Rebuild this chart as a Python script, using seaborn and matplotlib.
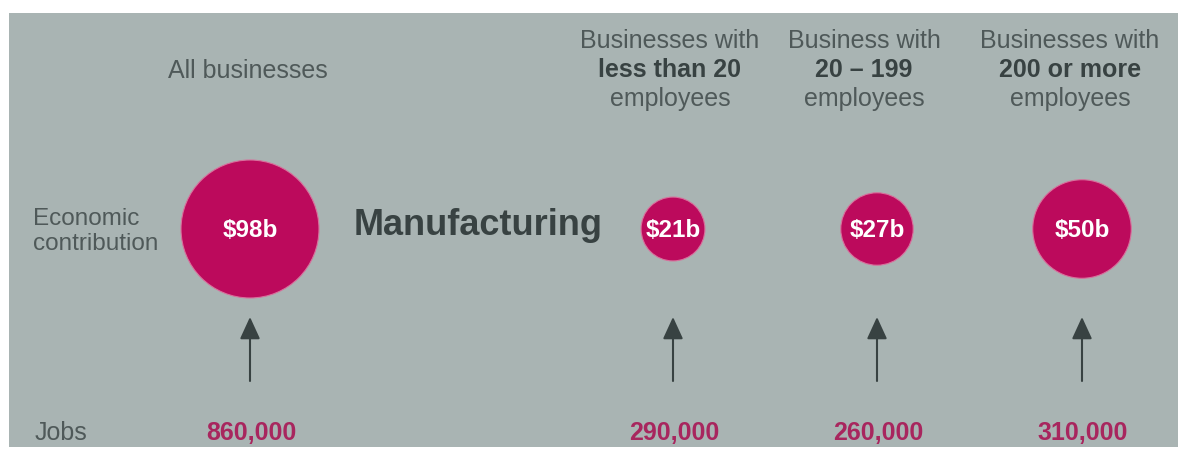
import pandas as pd
import matplotlib.pyplot as plt
import seaborn as sns

groups = ['All businesses', 'Less than 20', '20 - 199', '200 or more']
contribution_b = [98, 21, 27, 50]           # economic contribution, $ billions
jobs = [860000, 290000, 260000, 310000]
sector = 'Manufacturing'

# Header text for each group (one entry per line, True = bold)
headers = [
    [('All businesses', False)],
    [('Businesses with', False), ('less than 20', True), ('employees', False)],
    [('Business with', False), ('20 \u2013 199', True), ('employees', False)],
    [('Businesses with', False), ('200 or more', True), ('employees', False)],
]

# Layout (pixel coordinates of the panel)
col_x = [250, 673, 877, 1082]
header_x = [248, 670, 864, 1070]
circle_y = 230

panel_grey = '#a9b4b3'
magenta = '#bc0a5c'
jobs_col = '#a8265e'
text_grey = '#4f5959'
text_dark = '#384242'

sns.set_theme(style='white')
plt.rcParams['font.family'] = ['Liberation Sans', 'DejaVu Sans']

fig = plt.figure(figsize=(11.78, 4.52), dpi=100)
fig.patch.set_facecolor('white')
# panel sits 9px from the left and 14px from the top
ax = fig.add_axes([9 / 1178, 4 / 452, 1 - 9 / 1178, 434 / 452])
ax.set_facecolor(panel_grey)
ax.set_xlim(9, 1178)
ax.set_ylim(448, 14)
ax.set_xticks([])
ax.set_yticks([])
for sp in ax.spines.values():
    sp.set_visible(False)

df = pd.DataFrame({'group': groups, 'value': contribution_b,
                   'jobs': jobs, 'x': col_x})
df['y'] = circle_y

# bubble area proportional to contribution (s in pt^2, ~100.7 per $1b at 100 dpi)
k = 100.7
sns.scatterplot(data=df, x='x', y='y', size='value',
                sizes=(min(contribution_b) * k, max(contribution_b) * k),
                size_norm=(min(contribution_b), max(contribution_b)),
                color=magenta, linewidth=0.8, edgecolor='#d8709c',
                legend=False, ax=ax, zorder=3)
ax.set_xlabel('')
ax.set_ylabel('')

for i, row in df.iterrows():
    ax.text(row['x'], 237, f"${row['value']}b", ha='center', va='baseline',
            color='white', fontsize=17.5, fontweight='bold', zorder=4)
    ax.annotate('', xy=(row['x'], 318), xytext=(row['x'], 382),
                arrowprops=dict(arrowstyle='-|>,head_length=1.35,head_width=0.62',
                                mutation_scale=10, color=text_dark, lw=1.5,
                                shrinkA=0, shrinkB=0))
    ax.text(row['x'] + 1, 440, f"{row['jobs']:,}", ha='center', va='baseline',
            color=jobs_col, fontsize=18, fontweight='bold')

# group headers
for hx, lines in zip(header_x, headers):
    if len(lines) == 1:
        baselines = [78]
    else:
        baselines = [48, 77, 106]
    for (txt, bold), by in zip(lines, baselines):
        ax.text(hx, by, txt, ha='center', va='baseline', fontsize=18,
                color=text_dark if bold else text_grey,
                fontweight='bold' if bold else 'normal')

# row labels
ax.text(33, 225, 'Economic', ha='left', va='baseline', fontsize=17.5, color=text_grey)
ax.text(33, 250, 'contribution', ha='left', va='baseline', fontsize=17.5, color=text_grey)
ax.text(35, 440, 'Jobs', ha='left', va='baseline', fontsize=18, color=text_grey)

ax.text(354, 235, sector, ha='left', va='baseline', fontsize=26,
        fontweight='bold', color=text_dark)

fig.savefig('out.png', dpi=100, facecolor=fig.get_facecolor())
